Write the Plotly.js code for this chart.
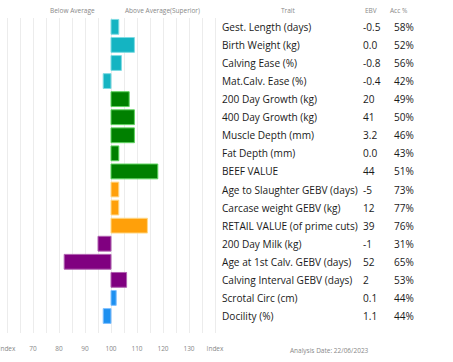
<!DOCTYPE html>
<html>
<head>
<meta charset="utf-8">
<script src="https://cdn.plot.ly/plotly-3.0.1.min.js"></script>
<style>html,body{margin:0;padding:0;background:#fff;}#chart{width:453px;height:362px;}</style>
</head>
<body>
<div id="chart"></div>
<script>
const traits = ["Gest. Length (days)","Birth Weight (kg)","Calving Ease (%)","Mat.Calv. Ease (%)","200 Day Growth (kg)","400 Day Growth (kg)","Muscle Depth (mm)","Fat Depth (mm)","BEEF VALUE","Age to Slaughter GEBV (days)","Carcase weight GEBV (kg)","RETAIL VALUE (of prime cuts)","200 Day Milk (kg)","Age at 1st Calv. GEBV (days)","Calving Interval GEBV (days)","Scrotal Circ (cm)","Docility (%)"];
const indexValues = [103,109,104,97,107,109,109,103,118,103,103,114,95,82,106,102,97];
const ebv = ["-0.5","0.0","-0.8","-0.4","20","41","3.2","0.0","44","-5","12","39","-1","52","2","0.1","1.1"];
const acc = ["58%","52%","56%","42%","49%","50%","46%","43%","51%","73%","77%","76%","31%","65%","53%","44%","44%"];
const groups = ["c","c","c","c","g","g","g","g","g","o","o","o","p","p","p","b","b"];
const tickVals = [60,70,80,90,100,110,120,130,140];
const tickText = ["Index","70","80","90","100","110","120","130","Index"];

const fill = {c:"#14b4c2", g:"#008000", o:"#ffa00a", p:"#800080", b:"#1e90f0"};
const edge = {c:"#7fdbe3", g:"#5fd35f", o:"#ffd98a", p:"#b060b0", b:"#80c0ff"};

const W = 453, H = 362, T = 18, B = 29;
const px = v => v / W;
const py = v => (H - B - v) / (H - T - B);

const trace = {
  type: "bar", orientation: "h",
  y: traits,
  x: indexValues.map(v => v - 100),
  base: 100,
  width: 0.82,
  marker: {color: groups.map(g => fill[g]), line: {color: groups.map(g => edge[g]), width: 1}},
  hoverinfo: "skip"
};

const ann = [];
const txtFont = {family: "Open Sans, sans-serif", size: 10.1, color: "#1a1a1a"};
traits.forEach((t, i) => {
  ann.push({xref: "paper", yref: "y", x: px(220), y: t, text: t, showarrow: false, xanchor: "left", yanchor: "middle", font: txtFont});
  ann.push({xref: "paper", yref: "y", x: px(361), y: t, text: ebv[i], showarrow: false, xanchor: "left", yanchor: "middle", font: txtFont});
  ann.push({xref: "paper", yref: "y", x: px(392), y: t, text: acc[i], showarrow: false, xanchor: "left", yanchor: "middle", font: txtFont});
});
const hdrFont = {family: "Open Sans, sans-serif", size: 6.5, color: "#888"};
[["Below Average", 72], ["Above Average(Superior)", 162], ["Trait", 288], ["EBV", 371], ["Acc %", 399]].forEach(([t, x]) => {
  ann.push({xref: "paper", yref: "paper", x: px(x), y: py(10), text: t, showarrow: false, xanchor: "center", yanchor: "middle", font: hdrFont});
});
ann.push({xref: "paper", yref: "paper", x: px(329), y: py(350), text: "Analysis Date: 22/06/2023", showarrow: false, xanchor: "center", yanchor: "middle", font: hdrFont});

const x0 = 60 - 7 / 2.6, x1 = 140 + 7 / 2.6;
const layout = {
  width: W, height: H,
  margin: {l: 0, r: 0, t: T, b: B, pad: 0},
  paper_bgcolor: "#fff", plot_bgcolor: "#fff",
  showlegend: false,
  xaxis: {
    domain: [0, px(222)], range: [x0, x1],
    tickvals: tickVals, ticktext: tickText,
    tickfont: {family: "Open Sans, sans-serif", size: 6.5, color: "#888"},
    ticklabeloverflow: "allow",
    showgrid: true, gridcolor: "#ececec", gridwidth: 1,
    minor: {tick0: 60, dtick: 5, showgrid: true, gridcolor: "#ececec", gridwidth: 1},
    zeroline: false, showline: false, ticks: "",
    ticklabelstandoff: 10, fixedrange: true
  },
  yaxis: {
    type: "category", range: [16.94, -0.49],
    showticklabels: false, showgrid: false, zeroline: false, showline: false, ticks: "", fixedrange: true
  },
  annotations: ann
};
Plotly.newPlot("chart", [trace], layout, {displayModeBar: false, staticPlot: true});
</script>
</body>
</html>
